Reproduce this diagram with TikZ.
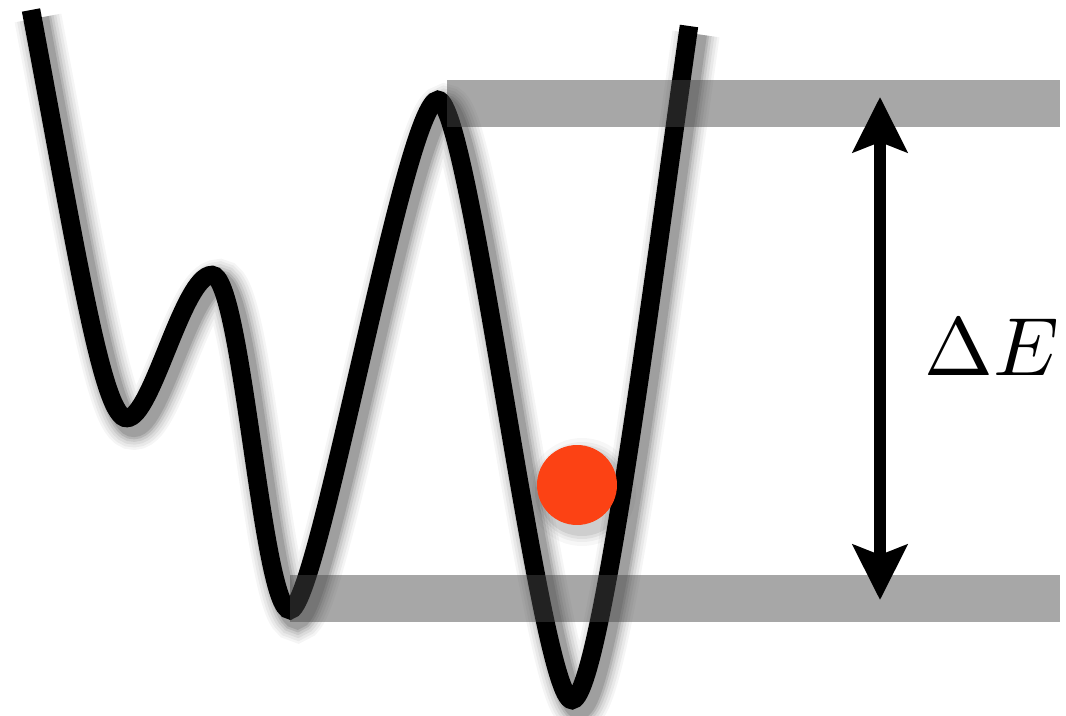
\documentclass[tikz,border=0pt]{standalone}
\usetikzlibrary{arrows.meta}
\definecolor{ballred}{RGB}{252,66,20}
\definecolor{bandgray}{RGB}{72,72,72}
\tikzset{
  curve/.style={line width=0.37cm,black},
  band/.style={fill=bandgray,fill opacity=0.48,draw=none},
  gap/.style={line width=0.24cm,{Stealth[length=1.1cm,width=1.08cm,inset=0.2cm]}-{Stealth[length=1.1cm,width=1.08cm,inset=0.2cm]}}
}
\newcommand{\landscape}{(31,10) .. controls (78,260) and (103,420) .. (127,418)
  .. controls (152,418) and (183,275) .. (212,275)
  .. controls (242,275) and (262,610) .. (290,610)
  .. controls (318,610) and (405,100) .. (438,100)
  .. controls (470,100) and (540,700) .. (572,700)
  .. controls (600,700) and (650,300) .. (689,26)}
\begin{document}
\begin{tikzpicture}[x=0.02cm,y=-0.02cm]
\useasboundingbox (0,0) rectangle (1066,716);
% soft shadow
\foreach \w/\o in {0.95/0.04,0.85/0.05,0.74/0.06,0.63/0.08,0.53/0.1,0.44/0.12}
  \draw[line width=\w cm,black,opacity=\o,shift={(7,8)}] \landscape;
\draw[curve] \landscape;
% ball
\foreach \r/\o in {54/0.03,50/0.04,47/0.06,44/0.08}
  \fill[black,opacity=\o] (582,492) circle (\r);
\node[circle,fill=ballred,minimum size=1.6cm,inner sep=0pt] (ball) at (577,485) {};
% energy levels
\fill[band] (447,80) rectangle (1060,127);
\fill[band] (290,575) rectangle (1060,622);
\coordinate (top) at (880,97);
\coordinate (bot) at (880,600);
\draw[gap] (bot) -- (top);
\node[scale=4.7] (dE) at (992,347) {$\Delta E$};
\end{tikzpicture}
\end{document}
